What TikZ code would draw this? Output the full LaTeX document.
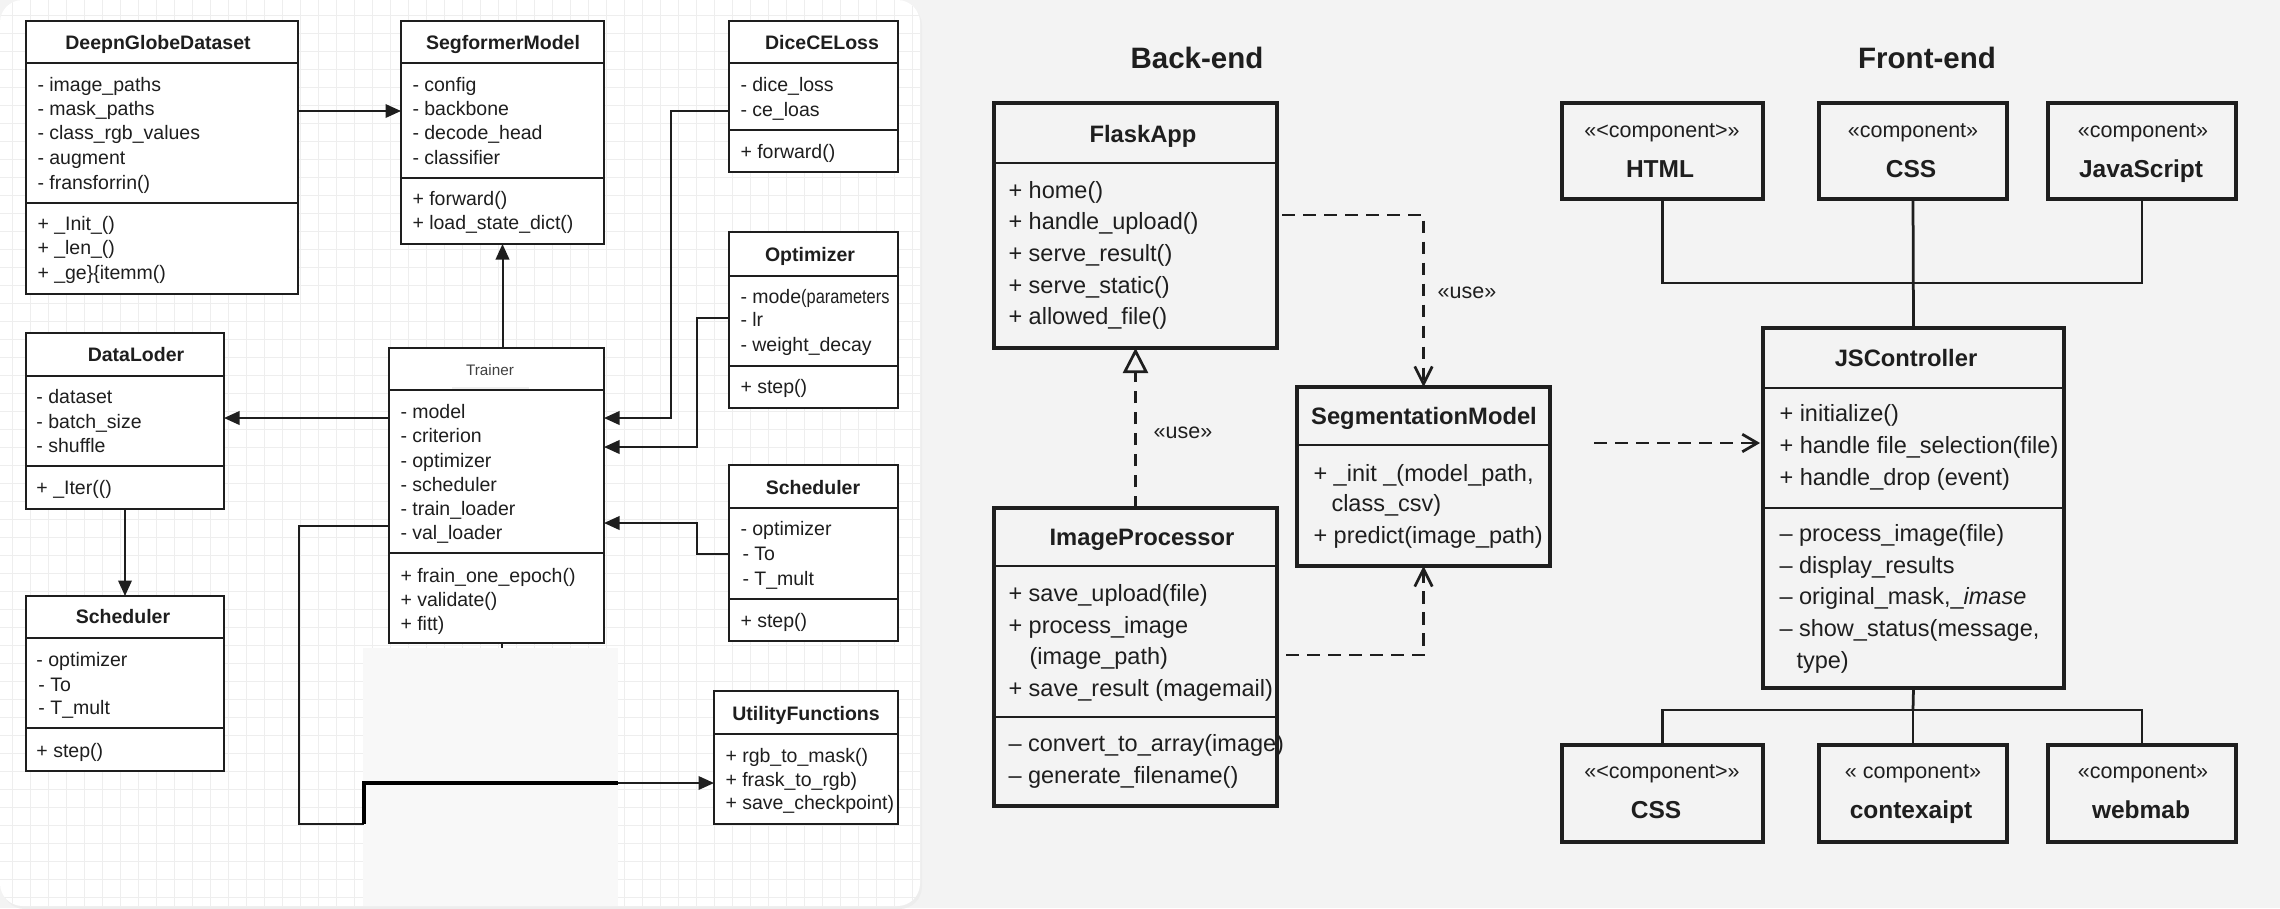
\documentclass[tikz,border=0pt]{standalone}
\usepackage{fontspec}
\setmainfont{Liberation Sans}
\usetikzlibrary{arrows.meta,fit,calc,shadows}
\definecolor{bg}{HTML}{F3F3F3}
\definecolor{gridc}{HTML}{EEEEEE}
\definecolor{patch}{HTML}{F8F8F8}
\definecolor{ink}{HTML}{1E1E1E}
\newcounter{tn}
\newcommand\tx[4]{\stepcounter{tn}\node[#1] (t\arabic{tn}) at (#2,#3) {#4};}
\newcommand\cbox[6]{\node[#1, fit={(#3,#4) (#5,#6)}] (#2) {};}
\newcommand\hsep[2]{\draw[sepl] (#1.west |- 0,#2) -- (#1.east |- 0,#2);}
\begin{document}
\begin{tikzpicture}[x=0.4pt,y=-0.4pt,
  lbox/.style={draw=ink, line width=1pt, fill=white, inner sep=0pt, outer sep=0pt},
  rbox/.style={draw=ink, line width=1.3pt, inner sep=0pt, outer sep=0pt},
  sepl/.style={draw=ink, line width=1pt},
  ltxt/.style={anchor=mid west, inner sep=0pt, text=ink, font=\fontsize{7.8}{9}\selectfont},
  ltitle/.style={anchor=mid, inner sep=0pt, text=ink, font=\bfseries\fontsize{7.8}{9}\selectfont},
  rtxt/.style={anchor=mid west, inner sep=0pt, text=ink, font=\fontsize{9.4}{11}\selectfont},
  rtitle/.style={anchor=mid, inner sep=0pt, text=ink, font=\bfseries\fontsize{9.5}{11}\selectfont},
  stereo/.style={anchor=mid, inner sep=0pt, text=ink, font=\fontsize{8.6}{10}\selectfont},
  cname/.style={anchor=mid, inner sep=0pt, text=ink, font=\bfseries\fontsize{9.8}{11}\selectfont},
  sect/.style={anchor=mid, inner sep=0pt, text=ink, font=\bfseries\fontsize{11.8}{14}\selectfont},
  lline/.style={draw=ink, line width=0.8pt},
  larr/.style={draw=ink, line width=0.8pt, -{Triangle[length=6.2pt,width=5.4pt]}},
  rline/.style={draw=ink, line width=1.1pt},
  dash2/.style={draw=ink, line width=1.1pt, dash pattern=on 5pt off 3.4pt},
  ropen/.style={-{Straight Barb[length=7pt,width=7pt,line width=1.1pt]}},
]
\useasboundingbox (0,0) rectangle (2280,908);
\fill[bg] (0,0) rectangle (2280,908);
% left card
\fill[black!7, rounded corners=9pt] (2,3) rectangle (922,909);
\fill[white, rounded corners=9pt] (0,0) rectangle (920,906);
\begin{scope}
\clip[rounded corners=9pt] (0,0) rectangle (920,906);
\foreach \i in {0,...,51} \draw[gridc, line width=0.4pt] (12.7+18*\i,0) -- (12.7+18*\i,906);
\foreach \i in {0,...,50} \draw[gridc, line width=0.4pt] (0,15.3+18*\i) -- (920,15.3+18*\i);
\fill[patch] (363,648) rectangle (618,906);
\end{scope}

% ---------- left panel boxes ----------
\cbox{lbox}{dg}{26}{21}{298}{294}
\hsep{dg}{63}\hsep{dg}{203}
\tx{ltitle}{158}{43}{DeepnGlobeDataset}
\tx{ltxt}{37}{85}{- image\_paths}
\tx{ltxt}{37}{109}{- mask\_paths}
\tx{ltxt}{37}{133}{- class\_rgb\_values}
\tx{ltxt}{37}{158}{- augment}
\tx{ltxt}{37}{183}{- fransforrin()}
\tx{ltxt}{37}{224}{+ \_Init\_()}
\tx{ltxt}{37}{248}{+ \_len\_()}
\tx{ltxt}{37}{273}{+ \_ge\}\{itemm()}

\cbox{lbox}{sf}{401}{21}{604}{244}
\hsep{sf}{63}\hsep{sf}{178}
\tx{ltitle}{503}{43}{SegformerModel}
\tx{ltxt}{412}{85}{- config}
\tx{ltxt}{412}{109}{- backbone}
\tx{ltxt}{412}{133}{- decode\_head}
\tx{ltxt}{412}{158}{- classifier}
\tx{ltxt}{412}{199}{+ forward()}
\tx{ltxt}{412}{223}{+ load\_state\_dict()}

\cbox{lbox}{dice}{729}{21}{898}{172}
\hsep{dice}{63}\hsep{dice}{130}
\tx{ltitle}{822}{43}{DiceCELoss}
\tx{ltxt}{740}{85}{- dice\_loss}
\tx{ltxt}{740}{110}{- ce\_loas}
\tx{ltxt}{740}{152}{+ forward()}

\cbox{lbox}{opt}{729}{232}{898}{408}
\hsep{opt}{276}\hsep{opt}{366}
\tx{ltitle}{810}{255}{Optimizer}
\tx{ltxt}{740}{297}{- mode{\addfontfeature{FakeStretch=0.84}(parameters}}
\tx{ltxt}{740}{320}{- lr}
\tx{ltxt}{740}{345}{- weight\_decay}
\tx{ltxt}{740}{387}{+ step()}

\cbox{lbox}{dl}{26}{333}{224}{509}
\hsep{dl}{376}\hsep{dl}{466}
\tx{ltitle}{136}{355}{DataLoder}
\tx{ltxt}{36}{397}{- dataset}
\tx{ltxt}{36}{422}{- batch\_size}
\tx{ltxt}{36}{446}{- shuffle}
\tx{ltxt}{36}{488}{+ \_Iter(()}

\cbox{lbox}{tr}{389}{348}{604}{643}
\hsep{tr}{390}\hsep{tr}{553}
\node[fill=white, inner sep=0pt, minimum width=30.8pt, minimum height=13.6pt, text=black!75,
  font=\fontsize{6.1}{7}\selectfont, drop shadow={opacity=0.12, shadow xshift=0pt, shadow yshift=-0.8pt}] (trl) at (490,370) {Trainer};
\tx{ltxt}{400}{412}{- model}
\tx{ltxt}{400}{436}{- criterion}
\tx{ltxt}{400}{461}{- optimizer}
\tx{ltxt}{400}{485}{- scheduler}
\tx{ltxt}{400}{509}{- train\_loader}
\tx{ltxt}{400}{533}{- val\_loader}
\tx{ltxt}{400}{576}{+ frain\_one\_epoch()}
\tx{ltxt}{400}{600}{+ validate()}
\tx{ltxt}{400}{624}{+ fitt)}

\cbox{lbox}{schr}{729}{465}{898}{641}
\hsep{schr}{508}\hsep{schr}{599}
\tx{ltitle}{813}{488}{Scheduler}
\tx{ltxt}{740}{529}{- optimizer}
\tx{ltxt}{742}{554}{- To}
\tx{ltxt}{742}{579}{- T\_mult}
\tx{ltxt}{740}{621}{+ step()}

\cbox{lbox}{schl}{26}{596}{224}{771}
\hsep{schl}{638}\hsep{schl}{728}
\tx{ltitle}{123}{617}{Scheduler}
\tx{ltxt}{36}{660}{- optimizer}
\tx{ltxt}{38}{685}{- To}
\tx{ltxt}{38}{708}{- T\_mult}
\tx{ltxt}{36}{751}{+ step()}

\cbox{lbox}{util}{714}{691}{898}{824}
\hsep{util}{734}
\tx{ltitle}{806}{714}{UtilityFunctions}
\tx{ltxt}{725}{756}{+ rgb\_to\_mask()}
\tx{ltxt}{725}{780}{+ frask\_to\_rgb)}
\tx{ltxt}{725}{803}{+ save\_checkpoint)}

% ---------- left connectors ----------
\draw[larr] ($(dg.north east)+(0,90)$) -- ($(sf.north west)+(0,90)$);
\draw[larr] (sf.south |- tr.north) -- (sf.south);
\coordinate (dcA) at (671,111);
\draw[larr] (dice.west |- dcA) -- (dcA) |- ($(tr.north east)+(0,70)$);
\coordinate (opA) at (697,318);
\draw[larr] (opt.west |- opA) -- (opA) |- ($(tr.north east)+(0,99)$);
\coordinate (scA) at (697,554);
\draw[larr] (schr.west |- scA) -- (scA) |- ($(tr.north east)+(0,175)$);
\draw[larr] ($(tr.north west)+(0,70)$) -- (dl.east |- 0,418);
\draw[larr] (dl.south) -- (schl.north);
\coordinate (trB) at (502,648);
\draw[lline] (trB |- tr.south) -- (trB);
\coordinate (u1) at (299,824);
\coordinate (u2) at (364,824);
\coordinate (u3) at (364,783);
\coordinate (u4) at (618,783);
\draw[lline] ($(tr.north west)+(0,178)$) -| (u1) -- (u2);
\draw[draw=black, line width=1.8pt] (u2) -- (u3) -- (u4);
\draw[larr] (u4) -- (util.west |- u4);

% ---------- Back-end ----------
\tx{sect}{1197}{62}{Back-end}
\cbox{rbox}{flask}{994}{103}{1277}{348}
\hsep{flask}{163}
\tx{rtitle}{1143}{136}{FlaskApp}
\tx{rtxt}{1008}{192}{+ home()}
\tx{rtxt}{1008}{223}{+ handle\_upload()}
\tx{rtxt}{1008}{255}{+ serve\_result()}
\tx{rtxt}{1008}{287}{+ serve\_static()}
\tx{rtxt}{1008}{318}{+ allowed\_file()}

\cbox{rbox}{segm}{1297}{387}{1550}{566}
\hsep{segm}{445}
\tx{rtitle}{1424}{418}{SegmentationModel}
\tx{rtxt}{1313}{475}{+ \_init \_(model\_path,}
\tx{rtxt}{1331}{505}{class\_csv)}
\tx{rtxt}{1313}{537}{+ predict(image\_path)}

\cbox{rbox}{imgp}{994}{508}{1277}{806}
\hsep{imgp}{566}\hsep{imgp}{717}
\tx{rtitle}{1142}{539}{ImageProcessor}
\tx{rtxt}{1008}{595}{+ save\_upload(file)}
\tx{rtxt}{1008}{627}{+ process\_image}
\tx{rtxt}{1029}{658}{(image\_path)}
\tx{rtxt}{1008}{690}{+ save\_result (magemail)}
\tx{rtxt}{1008}{745}{– convert\_to\_array(image)}
\tx{rtxt}{1008}{777}{– generate\_filename()}

\draw[dash2, ropen] ($(flask.north east)+(5,112)$) -| (segm.north);
\draw[dash2, ropen] ($(imgp.north east)+(9,147)$) -| (segm.south);
\draw[dash2, -{Triangle[open,length=10pt,width=10pt,line width=1.1pt]}] (imgp.north) -- (flask.south);
\tx{stereo}{1467}{292}{«use»}
\tx{stereo}{1183}{432}{«use»}

% ---------- Front-end ----------
\tx{sect}{1927}{62}{Front-end}
\cbox{rbox}{html}{1562}{103}{1763}{199}
\tx{stereo}{1662}{131}{«<component>»}
\tx{cname}{1660}{171}{HTML}
\cbox{rbox}{css}{1819}{103}{2007}{199}
\tx{stereo}{1913}{131}{«component»}
\tx{cname}{1911}{171}{CSS}
\cbox{rbox}{js}{2048}{103}{2236}{199}
\tx{stereo}{2143}{131}{«component»}
\tx{cname}{2141}{171}{JavaScript}

\cbox{rbox}{jsc}{1763}{328}{2064}{688}
\hsep{jsc}{388}\hsep{jsc}{508}
\tx{rtitle}{1906}{360}{JSController}
\tx{rtxt}{1779}{415}{+ initialize()}
\tx{rtxt}{1779}{447}{+ handle file\_selection(file)}
\tx{rtxt}{1779}{479}{+ handle\_drop (event)}
\tx{rtxt}{1779}{535}{– process\_image(file)}
\tx{rtxt}{1779}{567}{– display\_results}
\tx{rtxt}{1779}{598}{– original\_mask,\_\textit{imase}}
\tx{rtxt}{1779}{630}{– show\_status(message,}
\tx{rtxt}{1796}{662}{type)}

\cbox{rbox}{cssb}{1562}{745}{1763}{842}
\tx{stereo}{1662}{772}{«<component>»}
\tx{cname}{1656}{812}{CSS}
\cbox{rbox}{ctx}{1819}{745}{2007}{842}
\tx{stereo}{1913}{772}{« component»}
\tx{cname}{1911}{812}{contexaipt}
\cbox{rbox}{web}{2048}{745}{2236}{842}
\tx{stereo}{2143}{772}{«component»}
\tx{cname}{2141}{812}{webmab}

\coordinate (jt) at (1913,283);
\draw[rline] (html.south) |- (jt) -| (js.south);
\draw[rline] (css.south) -- (jsc.north);
\coordinate (jb) at (1913,710);
\draw[rline] (jsc.south) -- (jb);
\draw[rline] (cssb.north) |- (jb) -| (web.north);
\draw[rline] (jb) -- (ctx.north);
\coordinate (dfree) at (1594,443);
\draw[dash2, -{Straight Barb[length=6pt,width=7pt,line width=1.1pt]}] (dfree) -- ($(jsc.west |- dfree)+(-3,0)$);
\end{tikzpicture}
\end{document}
